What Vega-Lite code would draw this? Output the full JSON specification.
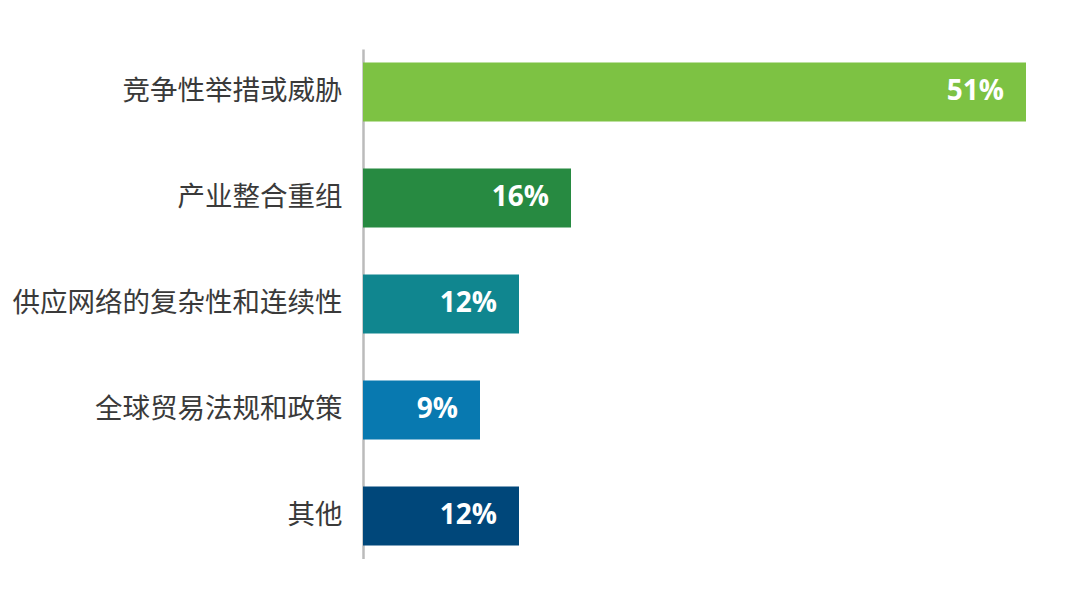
{
  "$schema": "https://vega.github.io/schema/vega-lite/v6.json",
  "width": 663,
  "height": 510,
  "padding": {"left": 12, "top": 49, "right": 0, "bottom": 0},
  "background": "white",
  "data": {
    "values": [
      {"category": "竞争性举措或威胁", "share": 0.51},
      {"category": "产业整合重组", "share": 0.16},
      {"category": "供应网络的复杂性和连续性", "share": 0.12},
      {"category": "全球贸易法规和政策", "share": 0.09},
      {"category": "其他", "share": 0.12}
    ]
  },
  "encoding": {
    "y": {
      "field": "category",
      "type": "nominal",
      "sort": null,
      "title": null,
      "scale": {"paddingInner": 0.443, "paddingOuter": 0.127},
      "axis": {
        "ticks": false,
        "domainColor": "#bbbbbb",
        "domainWidth": 2.5,
        "labelFont": "Noto Sans CJK SC",
        "labelFontSize": 27.5,
        "labelColor": "#3a3a3a",
        "labelPadding": 21,
        "labelLimit": 500
      }
    },
    "x": {
      "field": "share",
      "type": "quantitative",
      "scale": {"domain": [0, 0.51], "nice": false},
      "axis": null
    }
  },
  "layer": [
    {
      "mark": {"type": "bar"},
      "encoding": {
        "color": {
          "field": "category",
          "type": "nominal",
          "legend": null,
          "scale": {
            "domain": ["竞争性举措或威胁", "产业整合重组", "供应网络的复杂性和连续性", "全球贸易法规和政策", "其他"],
            "range": ["#7dc243", "#278a41", "#10868f", "#0879b0", "#00477a"]
          }
        }
      }
    },
    {
      "mark": {
        "type": "text",
        "align": "right",
        "baseline": "middle",
        "dx": -22,
        "font": "Open Sans",
        "fontWeight": "bold",
        "fontSize": 28,
        "color": "white"
      },
      "encoding": {
        "text": {"field": "share", "type": "quantitative", "format": ".0%"}
      }
    }
  ],
  "config": {
    "view": {"stroke": null}
  }
}
